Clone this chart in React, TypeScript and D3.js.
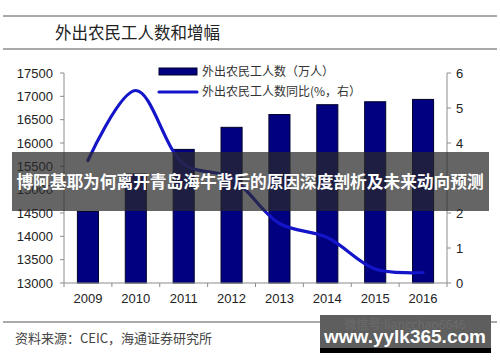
import * as d3 from 'd3';

const years = ['2009', '2010', '2011', '2012', '2013', '2014', '2015', '2016'];
const workers = [14533, 15335, 15863, 16336, 16610, 16821, 16884, 16934];
const growth = [3.5, 5.5, 3.4, 3.0, 1.7, 1.3, 0.4, 0.3];
const leftTicks = [13000, 13500, 14000, 14500, 15000, 15500, 16000, 16500, 17000, 17500];
const rightTicks = [0, 1, 2, 3, 4, 5, 6];

const W = 500;
const H = 362;
const PLOT = { left: 64, right: 447, top: 73, bottom: 283 };
const AXIS_COLOR = '#8c8c8c';
const BAR_FILL = '#000080';
const LINE_COLOR = '#1414c8';
const LATIN = '"Liberation Sans", Arial, sans-serif';
const CJK = '"Noto Sans CJK SC", sans-serif';

export default function App() {
    const xScale = d3
        .scaleBand()
        .domain(years)
        .range([PLOT.left, PLOT.right])
        .paddingInner(0.56)
        .paddingOuter(0.28);
    const step = (PLOT.right - PLOT.left) / years.length;

    const yLeft = d3.scaleLinear().domain([13000, 17500]).range([PLOT.bottom, PLOT.top]);
    const yRight = d3.scaleLinear().domain([0, 6]).range([PLOT.bottom, PLOT.top]);

    const line = d3
        .line<number>()
        .x((_, i) => (xScale(years[i]) ?? 0) + xScale.bandwidth() / 2)
        .y((d) => yRight(d))
        .curve(d3.curveCatmullRom.alpha(0.5));

    const bars = years.map((y, i) => (
        <rect
            key={y}
            x={xScale(y)}
            y={yLeft(workers[i])}
            width={xScale.bandwidth()}
            height={PLOT.bottom - yLeft(workers[i])}
            fill={BAR_FILL}
            stroke="#00002a"
            strokeWidth={1}
        />
    ));

    return (
        <svg width={W} height={H} style={{ position: 'absolute', left: 0, top: 0, background: '#fff' }}>
            {/* header */}
            <line x1={3} x2={497} y1={16} y2={16} stroke="#555" strokeWidth={1} />
            <text x={55} y={39} fontFamily={CJK} fontSize={16.5} fill="#222">
                外出农民工人数和增幅
            </text>
            <line x1={3} x2={497} y1={49} y2={49} stroke="#555" strokeWidth={1} />

            {bars}

            {/* left axis */}
            <line x1={PLOT.left} x2={PLOT.left} y1={PLOT.top} y2={PLOT.bottom} stroke={AXIS_COLOR} />
            {leftTicks.map((t) => (
                <g key={t}>
                    <line x1={PLOT.left - 4} x2={PLOT.left} y1={yLeft(t)} y2={yLeft(t)} stroke={AXIS_COLOR} />
                    <text x={53} y={yLeft(t)} dy="0.35em" textAnchor="end" fontFamily={LATIN} fontSize={13} fill="#222">
                        {t}
                    </text>
                </g>
            ))}

            {/* right axis */}
            <line x1={PLOT.right} x2={PLOT.right} y1={PLOT.top} y2={PLOT.bottom} stroke={AXIS_COLOR} />
            {rightTicks.map((t) => (
                <g key={t}>
                    <line x1={PLOT.right} x2={PLOT.right + 4} y1={yRight(t)} y2={yRight(t)} stroke={AXIS_COLOR} />
                    <text x={456} y={yRight(t)} dy="0.35em" fontFamily={LATIN} fontSize={13} fill="#222">
                        {t}
                    </text>
                </g>
            ))}

            {/* x axis */}
            <line x1={PLOT.left} x2={PLOT.right} y1={PLOT.bottom} y2={PLOT.bottom} stroke={AXIS_COLOR} />
            {d3.range(years.length + 1).map((i) => (
                <line
                    key={i}
                    x1={PLOT.left + i * step}
                    x2={PLOT.left + i * step}
                    y1={PLOT.bottom}
                    y2={PLOT.bottom + 4}
                    stroke={AXIS_COLOR}
                />
            ))}
            {years.map((y) => (
                <text
                    key={y}
                    x={(xScale(y) ?? 0) + xScale.bandwidth() / 2}
                    y={303}
                    textAnchor="middle"
                    fontFamily={LATIN}
                    fontSize={13}
                    fill="#222"
                >
                    {y}
                </text>
            ))}

            <path d={line(growth) ?? ''} fill="none" stroke={LINE_COLOR} strokeWidth={3.2} strokeLinecap="round" />

            {/* legend */}
            <rect x={159} y={68} width={38} height={7} fill={BAR_FILL} stroke="#00002a" />
            <text x={202} y={76} fontFamily={CJK} fontSize={12} fill="#333">
                外出农民工人数（万人）
            </text>
            <line x1={159} x2={197} y1={92} y2={92} stroke={LINE_COLOR} strokeWidth={3.2} strokeLinecap="round" />
            <text x={202} y={96} fontFamily={CJK} fontSize={12} fill="#333">
                外出农民工人数同比(%，右）
            </text>

            {/* footer */}
            <line x1={3} x2={497} y1={322} y2={322} stroke="#555" strokeWidth={1} />
            <text x={15} y={343} fontFamily={CJK} fontSize={13} fill="#444">
                资料来源：CEIC，海通证券研究所
            </text>

            {/* overlay banner */}
            <rect x={12} y={152} width={477} height={59} fill="#2a2a2a" opacity={0.72} />
            <text x={250} y={188} textAnchor="middle" fontFamily={CJK} fontWeight="bold" fontSize={16.7} fill="#fff">
                博阿基耶为何离开青岛海牛背后的原因深度剖析及未来动向预测
            </text>

            {/* watermark */}
            <rect x={320} y={315} width={171} height={38} fill="#5e5e5e" />
            <rect x={320} y={348} width={171} height={5} fill="#000" />
            <text x={405} y={329} textAnchor="middle" fontFamily={CJK} fontSize={12} fill="#6c6c6c">
                微信号:liangchao6646
            </text>
            <text x={405} y={343} textAnchor="middle" fontFamily={LATIN} fontWeight="bold" fontSize={19} fill="#fff">
                www.yylk365.com
            </text>
        </svg>
    );
}
